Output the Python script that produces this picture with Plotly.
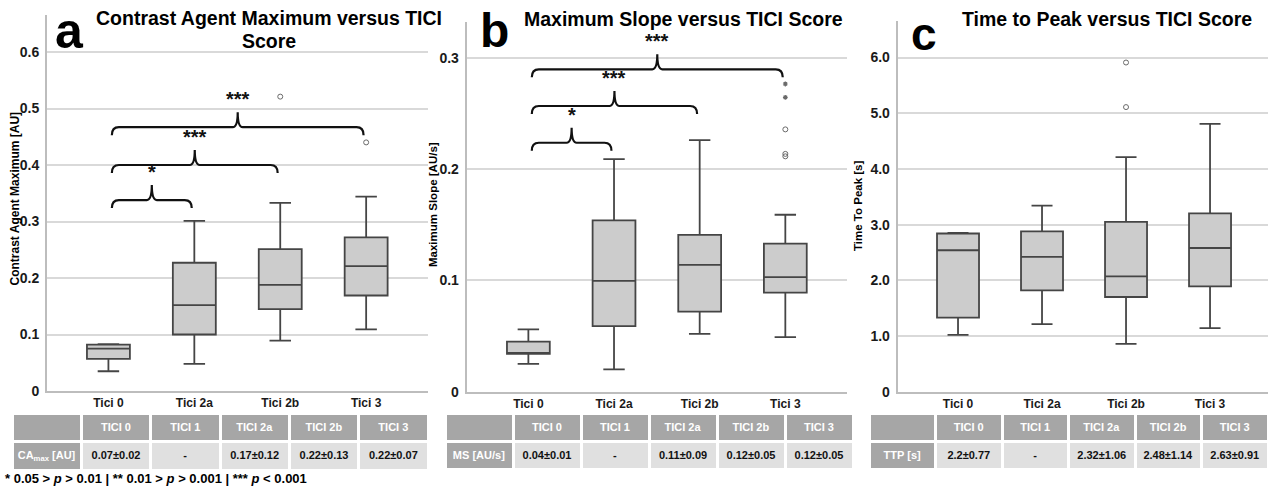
import plotly.graph_objects as go

W, H = 1268, 487
FONT = "Liberation Sans, Arial, sans-serif"

# ---- data -------------------------------------------------------------
categories = ["Tici 0", "Tici 2a", "Tici 2b", "Tici 3"]

# Contrast agent maximum [AU]
ca_low = [0.035, 0.048, 0.089, 0.109]
ca_q1 = [0.057, 0.100, 0.145, 0.169]
ca_med = [0.075, 0.152, 0.188, 0.221]
ca_q3 = [0.082, 0.227, 0.251, 0.272]
ca_high = [0.083, 0.301, 0.333, 0.344]
ca_out_x = ["Tici 2b", "Tici 3"]
ca_out_y = [0.521, 0.440]

# Maximum slope [AU/s]
ms_low = [0.025, 0.020, 0.052, 0.049]
ms_q1 = [0.034, 0.059, 0.072, 0.089]
ms_med = [0.034, 0.0995, 0.114, 0.103]
ms_q3 = [0.045, 0.154, 0.141, 0.133]
ms_high = [0.056, 0.209, 0.226, 0.159]
ms_out_x = ["Tici 3", "Tici 3", "Tici 3"]
ms_out_y = [0.2357, 0.2137, 0.2115]
ms_ext_x = ["Tici 3", "Tici 3"]
ms_ext_y = [0.2765, 0.2645]

# Time to peak [s]
ttp_low = [1.02, 1.215, 0.86, 1.14]
ttp_q1 = [1.33, 1.82, 1.70, 1.89]
ttp_med = [2.54, 2.42, 2.07, 2.58]
ttp_q3 = [2.84, 2.88, 3.05, 3.20]
ttp_high = [2.85, 3.34, 4.21, 4.81]
ttp_out_x = ["Tici 2b", "Tici 2b"]
ttp_out_y = [5.91, 5.11]

# y tick values and labels
ca_ticks = [0, 0.1, 0.2, 0.3, 0.4, 0.5, 0.6]
ca_ticktext = ["0", "0.1", "0.2", "0.3", "0.4", "0.5", "0.6"]
ms_ticks = [0, 0.1, 0.2, 0.3]
ms_ticktext = ["0", "0.1", "0.2", "0.3"]
ttp_ticks = [0, 1, 2, 3, 4, 5, 6]
ttp_ticktext = ["0", "1.0", "2.0", "3.0", "4.0", "5.0", "6.0"]

# significance comparisons (from group, to group, label)
comparisons = [(0, 1, "*"), (0, 2, "***"), (0, 3, "***")]

# summary tables (mean ± SD)
table_header = ["", "TICI 0", "TICI 1", "TICI 2a", "TICI 2b", "TICI 3"]
ca_row = ["CA<sub>max</sub>\u00a0[AU]", "0.07±0.02", "-", "0.17±0.12", "0.22±0.13", "0.22±0.07"]
ms_row = ["MS\u00a0[AU/s]", "0.04±0.01", "-", "0.11±0.09", "0.12±0.05", "0.12±0.05"]
ttp_row = ["TTP\u00a0[s]", "2.2±0.77", "-", "2.32±1.06", "2.48±1.14", "2.63±0.91"]

# ---- layout geometry (pixels) -------------------------------------------
panels = [
    dict(x0=47, x1=428, yb=391, yt=15, ymax=0.6655, xr=[-0.715, 3.72]),
    dict(x0=466.7, x1=847, yb=391.7, yt=22, ymax=0.3322, xr=[-0.72, 3.72]),
    dict(x0=897.7, x1=1268, yb=391.7, yt=20.7, ymax=6.661, xr=[-0.718, 3.69]),
]
brace_levels = [
    [0.338, 0.400, 0.467],
    [0.2237, 0.2567, 0.2897],
]


def px(x):
    return x / W


def py(y):
    return 1 - y / H


fig = go.Figure()

box_style = dict(fillcolor="#cccccc", line=dict(color="#454545", width=1.8),
                 width=0.5, whiskerwidth=0.5, boxpoints=False, showlegend=False,
                 hoverinfo="skip")

series = [
    (ca_low, ca_q1, ca_med, ca_q3, ca_high),
    (ms_low, ms_q1, ms_med, ms_q3, ms_high),
    (ttp_low, ttp_q1, ttp_med, ttp_q3, ttp_high),
]
for i, (lo, q1, md, q3, hi) in enumerate(series):
    ax = "" if i == 0 else str(i + 1)
    fig.add_trace(go.Box(x=categories, lowerfence=lo, q1=q1, median=md, q3=q3,
                         upperfence=hi, xaxis="x" + ax, yaxis="y" + ax, **box_style))

grey = "#6a6a6a"
circle = dict(symbol="circle-open", size=5, color=grey, line=dict(width=1, color=grey))
for ox, oy, ax in [(ca_out_x, ca_out_y, ""), (ms_out_x, ms_out_y, "2"), (ttp_out_x, ttp_out_y, "3")]:
    fig.add_trace(go.Scatter(x=ox, y=oy, mode="markers", marker=circle, showlegend=False,
                             xaxis="x" + ax, yaxis="y" + ax, hoverinfo="skip"))
fig.add_trace(go.Scatter(x=ms_ext_x, y=ms_ext_y, mode="markers", showlegend=False,
                         marker=dict(symbol="asterisk-open", size=4, color=grey,
                                     line=dict(width=1.2, color=grey)),
                         xaxis="x2", yaxis="y2", hoverinfo="skip"))

# ---- axes ---------------------------------------------------------------
tickfont = dict(family=FONT, size=14, color="#1a1a1a", weight="bold")
xtickfont = dict(family=FONT, size=12, color="#1a1a1a", weight="bold")
ticks = [(ca_ticks, ca_ticktext), (ms_ticks, ms_ticktext), (ttp_ticks, ttp_ticktext)]
layout_axes = {}
for i, p in enumerate(panels):
    sfx = "" if i == 0 else str(i + 1)
    layout_axes["xaxis" + sfx] = dict(
        domain=[px(p["x0"]), px(p["x1"])], anchor="y" + sfx, type="category",
        range=p["xr"], showline=True, linecolor="#bdbdbd", linewidth=2,
        showgrid=False, ticks="", tickfont=xtickfont, fixedrange=True,
        ticklabelstandoff=0, automargin=False,
        categoryorder="array", categoryarray=categories)
    layout_axes["yaxis" + sfx] = dict(
        domain=[py(p["yb"]), py(p["yt"])], anchor="x" + sfx, range=[0, p["ymax"]],
        showline=True, linecolor="#bdbdbd", linewidth=2, showgrid=True,
        gridcolor="#d9d9d9", gridwidth=1.5, zeroline=False, ticks="",
        tickvals=ticks[i][0], ticktext=ticks[i][1], tickfont=tickfont,
        ticklabelstandoff=3, automargin=False, fixedrange=True)

# ---- significance braces ------------------------------------------------
shapes = []
annotations = []
for i, levels in enumerate(brace_levels):
    p = panels[i]
    sfx = "" if i == 0 else str(i + 1)
    ux = (p["x1"] - p["x0"]) / (p["xr"][1] - p["xr"][0])   # px per category
    uy = (p["yb"] - p["yt"]) / p["ymax"]                   # px per data unit
    for (a, b, label), yb in zip(comparisons, levels):
        x0, x1 = a + 0.04, b - 0.03
        xm = (x0 + x1) / 2
        ex, tx = 7 / ux, 5 / ux
        drop, rise = 8 / uy, 15 / uy
        y0, yt = yb - drop, yb + rise
        path = (f"M {x0},{y0} Q {x0},{yb} {x0 + ex},{yb} L {xm - tx},{yb} "
                f"Q {xm},{yb} {xm},{yt} Q {xm},{yb} {xm + tx},{yb} "
                f"L {x1 - ex},{yb} Q {x1},{yb} {x1},{y0}")
        shapes.append(dict(type="path", path=path, xref="x" + sfx, yref="y" + sfx,
                           line=dict(color="#111111", width=2.2)))
        annotations.append(dict(x=xm, y=yt, xref="x" + sfx, yref="y" + sfx, text=label,
                                showarrow=False, yanchor="bottom", xanchor="center",
                                font=dict(family=FONT, size=20, color="#111111", weight="bold")))


def label(text, x, y, size, xanchor="center", yanchor="bottom", angle=0, weight="bold"):
    annotations.append(dict(text=text, x=px(x), y=py(y), xref="paper", yref="paper",
                            showarrow=False, xanchor=xanchor, yanchor=yanchor,
                            textangle=angle,
                            font=dict(family=FONT, size=size, color="#000000", weight=weight)))


# titles
label("Contrast Agent Maximum versus TICI", 268.5, 31, 19.5)
label("Score", 268.5, 54, 19.5)
label("Maximum Slope versus TICI Score", 683.5, 32, 19.5)
label("Time to Peak versus TICI Score", 1106.5, 31.7, 19.5)

# panel letters
label("a", 69.5, 60.5, 50)
label("b", 494.5, 59, 48)
label("c", 923.5, 62.5, 46)

# y axis titles
label("Contrast Agent Maximum [AU]", 14, 198.5, 12, yanchor="middle", angle=-90)
label("Maximum Slope [AU/s]", 433, 205, 11.5, yanchor="middle", angle=-90)
label("Time To Peak [s]", 858, 206, 11.5, yanchor="middle", angle=-90)

# footnote
label("* 0.05 &gt; <i>p</i> &gt; 0.01 | ** 0.01 &gt; <i>p</i> &gt; 0.001 | *** <i>p</i> &lt; 0.001",
      3, 478, 13, xanchor="left", yanchor="middle")

# ---- summary tables -----------------------------------------------------
dark, light = "#a6a6a6", "#e0e0e0"
for row, (tx0, tx1) in [(ca_row, (12, 428)), (ms_row, (445, 853)), (ttp_row, (869, 1268))]:
    fig.add_trace(go.Table(
        domain=dict(x=[px(tx0), px(tx1)], y=[py(469), py(413)]),
        columnwidth=[1] * len(table_header),
        header=dict(values=[f"<b>{h}</b>" if h else " " for h in table_header], height=25,
                    fill_color=dark, line=dict(color="white", width=3), align="center",
                    font=dict(family=FONT, size=11, color="white")),
        cells=dict(values=[[f"<b>{v}</b>"] for v in row], height=25,
                   fill_color=[[dark]] + [[light]] * (len(row) - 1),
                   line=dict(color="white", width=3), align="center",
                   font=dict(family=FONT, size=11,
                             color=["white"] + ["#111111"] * (len(row) - 1))),
    ))

fig.update_layout(
    width=W, height=H, margin=dict(l=0, r=0, t=0, b=0, autoexpand=False),
    paper_bgcolor="white", plot_bgcolor="white", showlegend=False,
    shapes=shapes, annotations=annotations, **layout_axes)

fig.write_html("out.html")
